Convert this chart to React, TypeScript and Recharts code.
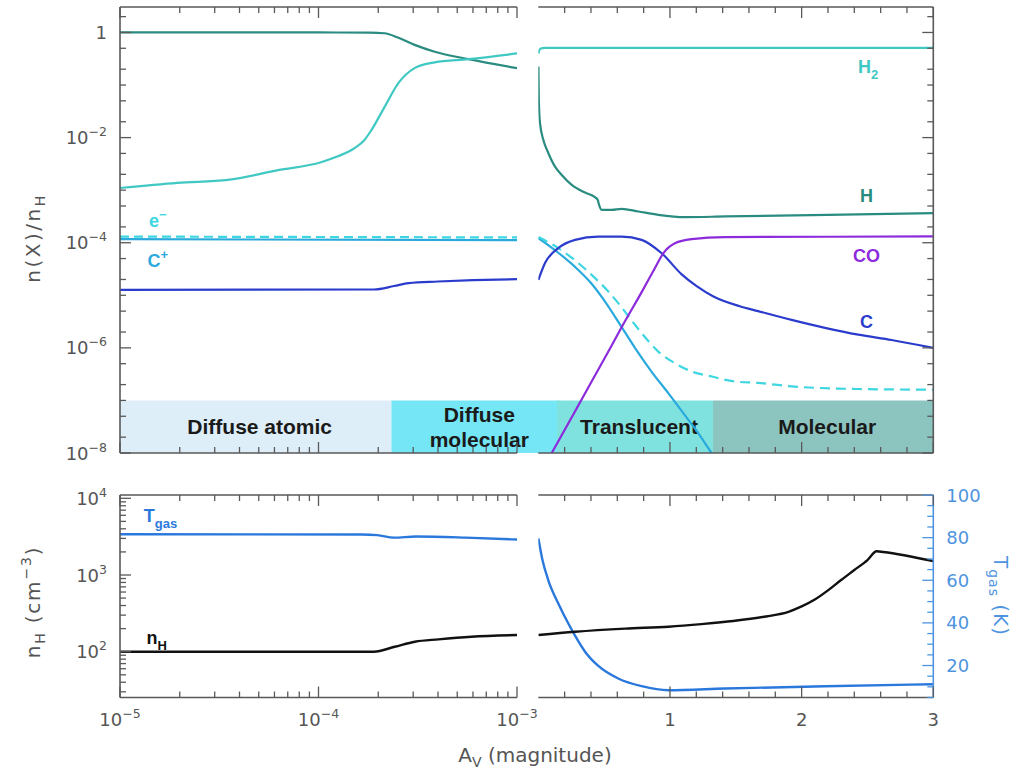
import React from 'react';
import { LineChart, Line, XAxis, YAxis, ReferenceArea, ReferenceDot } from 'recharts';

// ---------------- page / frame geometry ----------------
const PAGE_W = 1017;
const PAGE_H = 772;
const LEFT_L = 120;
const LEFT_R = 517;
const RIGHT_L = 538.3;
const RIGHT_R = 933.3;
const TOP_T = 7;
const TOP_B = 453;
const BOT_T = 495;
const BOT_B = 697.5;
const AX = 2; // thickness reserved for each visible axis

// ---------------- colours & fonts ----------------
const GRAY = '#595959';
const TEXT_GRAY = '#555555';
const BLUE_AXIS = '#4f94df';
const COL = {
  H: '#2a8c80',
  H2: '#40c8c3',
  E: '#3ed6e0',
  CP: '#2aa9dc',
  C: '#2b3ccc',
  CO: '#8c2bdc',
  T: '#2a78dc',
  NH: '#111111',
};
const BAND_COLOR: Record<string, string> = {
  'Diffuse atomic': '#deeef8',
  'Diffuse molecular': '#75e6f5',
  Translucent: '#80e2de',
  Molecular: '#8cc4c0',
};
const TICK_FONT = '"DejaVu Sans", sans-serif';
const LABEL_FONT = '"Liberation Sans", Arial, sans-serif';

// ---------------- data: upper panels, n(X)/nH ----------------
// left half (log A_V from 1e-5 to 1e-3)
const hLeft = [
  { av: 1e-5, n: 1.0 }, { av: 1.0e-4, n: 1.0 }, { av: 1.8e-4, n: 0.99 }, { av: 2.15e-4, n: 0.965 },
  { av: 2.53e-4, n: 0.79 }, { av: 3.05e-4, n: 0.58 }, { av: 3.85e-4, n: 0.43 }, { av: 5.7e-4, n: 0.31 },
  { av: 1e-3, n: 0.21 },
];
const h2Left = [
  { av: 1e-5, n: 1.1e-3 }, { av: 1.95e-5, n: 1.38e-3 }, { av: 3.5e-5, n: 1.57e-3 }, { av: 6.25e-5, n: 2.4e-3 },
  { av: 1.03e-4, n: 3.4e-3 }, { av: 1.25e-4, n: 4.4e-3 }, { av: 1.52e-4, n: 6.3e-3 }, { av: 1.7e-4, n: 8.9e-3 },
  { av: 1.85e-4, n: 1.4e-2 }, { av: 2.15e-4, n: 3.8e-2 }, { av: 2.53e-4, n: 0.11 }, { av: 3.05e-4, n: 0.21 },
  { av: 3.85e-4, n: 0.27 }, { av: 5.7e-4, n: 0.31 }, { av: 1e-3, n: 0.4 },
];
const eLeft = [{ av: 1e-5, n: 1.31e-4 }, { av: 1e-3, n: 1.26e-4 }];
const cpLeft = [{ av: 1e-5, n: 1.17e-4 }, { av: 1e-3, n: 1.12e-4 }];
const cLeft = [
  { av: 1e-5, n: 1.27e-5 }, { av: 1.9e-4, n: 1.29e-5 }, { av: 2.4e-4, n: 1.5e-5 }, { av: 2.85e-4, n: 1.71e-5 },
  { av: 4.0e-4, n: 1.83e-5 }, { av: 6.0e-4, n: 1.94e-5 }, { av: 1e-3, n: 2.03e-5 },
];

// right half (linear A_V from 0 to 3)
const hRight = [
  { av: 0.001, n: 0.224 }, { av: 0.004, n: 0.052 }, { av: 0.013, n: 0.0188 }, { av: 0.038, n: 0.0091 },
  { av: 0.076, n: 0.0051 }, { av: 0.127, n: 0.0028 }, { av: 0.178, n: 0.00195 }, { av: 0.254, n: 0.00126 },
  { av: 0.355, n: 9.0e-4 }, { av: 0.43, n: 7.35e-4 }, { av: 0.451, n: 6.55e-4 }, { av: 0.461, n: 5.3e-4 },
  { av: 0.481, n: 4.23e-4 }, { av: 0.557, n: 4.23e-4 }, { av: 0.633, n: 4.42e-4 }, { av: 0.759, n: 3.93e-4 },
  { av: 0.911, n: 3.4e-4 }, { av: 1.114, n: 3.07e-4 }, { av: 1.42, n: 3.16e-4 }, { av: 2.2, n: 3.4e-4 },
  { av: 3.0, n: 3.65e-4 },
];
const h2Right = [{ av: 0.001, n: 0.4 }, { av: 0.015, n: 0.49 }, { av: 0.05, n: 0.507 }, { av: 3.0, n: 0.507 }];
const cpRight = [
  { av: 0.001, n: 1.22e-4 }, { av: 0.152, n: 6.45e-5 }, { av: 0.279, n: 3.47e-5 }, { av: 0.405, n: 1.66e-5 },
  { av: 0.507, n: 7.6e-6 }, { av: 0.62, n: 2.8e-6 }, { av: 0.734, n: 1.0e-6 }, { av: 0.861, n: 3.5e-7 },
  { av: 0.987, n: 1.38e-7 }, { av: 1.114, n: 5.2e-8 }, { av: 1.215, n: 2.4e-8 }, { av: 1.317, n: 1.0e-8 },
  { av: 1.45, n: 4.0e-9 },
];
const eRight = [
  { av: 0.001, n: 1.28e-4 }, { av: 0.152, n: 7.9e-5 }, { av: 0.304, n: 4.1e-5 }, { av: 0.405, n: 2.45e-5 },
  { av: 0.532, n: 1.18e-5 }, { av: 0.658, n: 4.9e-6 }, { av: 0.734, n: 2.75e-6 }, { av: 0.785, n: 1.91e-6 },
  { av: 0.911, n: 8.5e-7 }, { av: 1.038, n: 5.1e-7 }, { av: 1.165, n: 3.55e-7 }, { av: 1.317, n: 2.85e-7 },
  { av: 1.494, n: 2.29e-7 }, { av: 1.668, n: 2.16e-7 }, { av: 1.924, n: 1.85e-7 }, { av: 2.427, n: 1.65e-7 },
  { av: 3.0, n: 1.6e-7 },
];
const cRight = [
  { av: 0.001, n: 1.97e-5 }, { av: 0.051, n: 4.1e-5 }, { av: 0.152, n: 7.9e-5 }, { av: 0.279, n: 1.135e-4 },
  { av: 0.456, n: 1.31e-4 }, { av: 0.633, n: 1.31e-4 }, { av: 0.785, n: 1.135e-4 }, { av: 0.937, n: 6.3e-5 },
  { av: 1.089, n: 2.5e-5 }, { av: 1.2, n: 1.51e-5 }, { av: 1.33, n: 9.5e-6 }, { av: 1.53, n: 6.2e-6 },
  { av: 1.67, n: 5.0e-6 }, { av: 1.924, n: 3.4e-6 }, { av: 2.177, n: 2.4e-6 }, { av: 2.43, n: 1.78e-6 },
  { av: 2.683, n: 1.41e-6 }, { av: 3.0, n: 1.0e-6 },
];
const coRight = [
  { av: 0.05, n: 5.9e-9 }, { av: 0.102, n: 1.0e-8 }, { av: 0.279, n: 6.2e-8 }, { av: 0.405, n: 2.3e-7 },
  { av: 0.532, n: 8.5e-7 }, { av: 0.658, n: 3.2e-6 }, { av: 0.785, n: 1.15e-5 }, { av: 0.886, n: 3.3e-5 },
  { av: 0.949, n: 6.3e-5 }, { av: 1.038, n: 9.8e-5 }, { av: 1.165, n: 1.17e-4 }, { av: 1.418, n: 1.28e-4 },
  { av: 2.2, n: 1.3e-4 }, { av: 3.0, n: 1.32e-4 },
];

// ---------------- data: lower panels ----------------
const nhLeft = [
  { av: 1e-5, v: 100 }, { av: 1.9e-4, v: 100 }, { av: 2.42e-4, v: 116 }, { av: 3.06e-4, v: 135 },
  { av: 4.02e-4, v: 145 }, { av: 5.9e-4, v: 157 }, { av: 1e-3, v: 165 },
];
const tgasLeft = [
  { av: 1e-5, v: 81.6 }, { av: 1.65e-4, v: 81.5 }, { av: 1.98e-4, v: 81.2 }, { av: 2.4e-4, v: 80.0 },
  { av: 3.1e-4, v: 80.5 }, { av: 5.5e-4, v: 80.0 }, { av: 1e-3, v: 79.1 },
];
const nhRight = [
  { av: 0.001, v: 165 }, { av: 0.28, v: 182 }, { av: 0.66, v: 200 }, { av: 0.99, v: 212 }, { av: 1.24, v: 229 },
  { av: 1.48, v: 251 }, { av: 1.73, v: 288 }, { av: 1.9, v: 331 }, { av: 2.0, v: 389 }, { av: 2.1, v: 479 },
  { av: 2.2, v: 631 }, { av: 2.3, v: 861 }, { av: 2.4, v: 1161 }, { av: 2.5, v: 1567 }, { av: 2.57, v: 2042 },
  { av: 2.62, v: 1995 }, { av: 3.0, v: 1514 },
];
const tgasRight = [
  { av: 0.001, v: 79.6 }, { av: 0.03, v: 70 }, { av: 0.076, v: 60 }, { av: 0.152, v: 49.1 },
  { av: 0.228, v: 39.7 }, { av: 0.279, v: 34 }, { av: 0.355, v: 26.5 }, { av: 0.456, v: 19.8 },
  { av: 0.607, v: 13.9 }, { av: 0.785, v: 10.3 }, { av: 0.987, v: 8.4 }, { av: 1.418, v: 9.2 },
  { av: 2.177, v: 10.3 }, { av: 3.0, v: 11.2 },
];

// ---------------- regions (A_V boundaries) ----------------
const bandAbund = [1e-8, 1e-7];
const leftBands = [
  { name: 'Diffuse atomic', from: 1e-5, to: 2.33e-4 },
  { name: 'Diffuse molecular', from: 2.33e-4, to: 1.63e-3 },
];
const rightBands = [
  { name: 'Translucent', from: 0.142, to: 1.327 },
  { name: 'Molecular', from: 1.327, to: 3.0 },
];

// ---------------- species label anchors ----------------
const upperRightLabels = [
  { id: 'H2', av: 2.504, n: 0.225 },
  { id: 'H', av: 2.493, n: 7.9e-4 },
  { id: 'CO', av: 2.493, n: 5.7e-5 },
  { id: 'C', av: 2.493, n: 3.2e-6 },
];
const upperLeftLabels = [
  { id: 'e-', av: 1.55e-5, n: 2.65e-4 },
  { id: 'C+', av: 1.55e-5, n: 4.6e-5 },
];
const lowerLeftLabels = [
  { id: 'Tgas', av: 1.6e-5, axis: 't', v: 90.5 },
  { id: 'nH', av: 1.53e-5, axis: 'n', v: 151 },
];

// ---------------- axes: domains & ticks ----------------
const leftAvDomain = [1e-5, 1e-3];
const rightAvDomain = [0, 3];
const abundDomain = [1e-8, 3.05];
const nhDomain = [25.3, 11040];
const tgasDomain = [5, 100];

const leftAvMajors = [1e-5, 1e-4, 1e-3];
const abundMajors = [1, 1e-2, 1e-4, 1e-6, 1e-8];
const nhMajors = [100, 1000, 10000];
const rightAvMajors = [1, 2, 3];
const tgasMajors = [20, 40, 60, 80, 100];

const decadeTicks = (lo: number, hi: number, mults: number[]) => {
  const out: number[] = [];
  for (let e = Math.floor(Math.log10(lo)); e <= Math.ceil(Math.log10(hi)); e++) {
    for (const m of mults) {
      const v = Number((m * Math.pow(10, e)).toPrecision(6));
      if (v >= lo * 0.999999 && v <= hi * 1.000001) out.push(v);
    }
  }
  return out;
};
const leftAvTicks = decadeTicks(1e-5, 1e-3, [1, 2, 3, 4, 5, 6, 7, 8, 9]);
const abundTicks = decadeTicks(1e-8, 3.05, [1, 2, 5]);
const nhTicks = decadeTicks(25.3, 11040, [1, 2, 3, 4, 5, 6, 7, 8, 9]);
const rightAvTicks = Array.from({ length: 15 }, (_, i) => Math.round((i + 1) * 2) / 10);
const tgasTicks = Array.from({ length: 20 }, (_, i) => (i + 1) * 5);

// ---------------- tick renderer ----------------
type Side = 'left' | 'right' | 'top' | 'bottom';
type Fmt = (v: number) => { base: string; exp?: string } | null;

const powFmt: Fmt = (v) => {
  const e = Math.round(Math.log10(v));
  if (e === 0) return { base: '1' };
  return { base: '10', exp: e < 0 ? `\u2212${-e}` : `${e}` };
};
const plainFmt: Fmt = (v) => ({ base: String(Math.round(v)) });
const sameVal = (a: number, b: number) => Math.abs(a - b) <= 1e-6 * Math.max(Math.abs(a), Math.abs(b));

function makeTick(side: Side, majors: number[], fmt?: Fmt, color = GRAY, textColor = TEXT_GRAY) {
  return (props: any) => {
    const x = Number(props.x);
    const y = Number(props.y);
    const v = Number(props.payload?.value);
    const major = majors.some((m) => sameVal(m, v));
    const len = major ? 11 : 6;
    let x2 = x;
    let y2 = y;
    let tx = x;
    let ty = y;
    let anchor: 'start' | 'middle' | 'end' = 'middle';
    if (side === 'left') { x2 = x + len; tx = x - 13; ty = y + 6.5; anchor = 'end'; }
    else if (side === 'right') { x2 = x - len; tx = x + 13; ty = y + 6.5; anchor = 'start'; }
    else if (side === 'top') { y2 = y + len; }
    else { y2 = y - len; ty = y + 28; }
    const lab = major && fmt ? fmt(v) : null;
    return (
      <g>
        <line x1={x} y1={y} x2={x2} y2={y2} stroke={color} strokeWidth={1.3} />
        {lab && (
          <text x={tx} y={ty} textAnchor={anchor} fill={textColor} fontSize={18} fontFamily={TICK_FONT}>
            {lab.base}
            {lab.exp ? <tspan dy={-8} fontSize={12.5}>{lab.exp}</tspan> : null}
          </text>
        )}
      </g>
    );
  };
}

// ---------------- label renderers ----------------
type Piece = { t: string; s?: 'sub' | 'sup' };
const CHEM: Record<string, { pieces: Piece[]; color: string }> = {
  H2: { pieces: [{ t: 'H' }, { t: '2', s: 'sub' }], color: COL.H2 },
  H: { pieces: [{ t: 'H' }], color: COL.H },
  CO: { pieces: [{ t: 'CO' }], color: COL.CO },
  C: { pieces: [{ t: 'C' }], color: COL.C },
  'e-': { pieces: [{ t: 'e' }, { t: '\u2212', s: 'sup' }], color: COL.E },
  'C+': { pieces: [{ t: 'C' }, { t: '+', s: 'sup' }], color: COL.CP },
  Tgas: { pieces: [{ t: 'T' }, { t: 'gas', s: 'sub' }], color: COL.T },
  nH: { pieces: [{ t: 'n' }, { t: 'H', s: 'sub' }], color: COL.NH },
};

const chemLabel = (id: string) => (props: any) => {
  const spec = CHEM[id];
  const vb = props.viewBox || {};
  const cx = Number(vb.x || 0) + Number(vb.width || 0) / 2;
  const cy = Number(vb.y || 0) + Number(vb.height || 0) / 2;
  const size = 18;
  let cur = 0;
  return (
    <text x={cx} y={cy + 6.5} textAnchor="middle" fill={spec.color} fontSize={size} fontWeight="bold" fontFamily={LABEL_FONT}>
      {spec.pieces.map((p, i) => {
        const target = p.s === 'sub' ? 6 : p.s === 'sup' ? -8 : 0;
        const dy = target - cur;
        cur = target;
        return (
          <tspan key={i} dy={dy} fontSize={p.s ? 13 : size}>
            {p.t}
          </tspan>
        );
      })}
    </text>
  );
};

const bandLabel = (name: string) => (props: any) => {
  const vb = props.viewBox || {};
  const cx = Number(vb.x) + Number(vb.width) / 2;
  const cy = Number(vb.y) + Number(vb.height) / 2;
  const lines = name === 'Diffuse molecular' ? ['Diffuse', 'molecular'] : [name];
  const step = 25;
  const first = cy + 7.5 - ((lines.length - 1) * step) / 2;
  return (
    <text textAnchor="middle" fill="#1a1a1a" fontSize={21} fontWeight="bold" fontFamily={LABEL_FONT}>
      {lines.map((l, i) => (
        <tspan key={i} x={cx + 4} y={first + i * step}>
          {l}
        </tspan>
      ))}
    </text>
  );
};

// ---------------- helpers ----------------
// plot area [l..r] x [t..b]; each visible axis reserves AX px outside it
const box = (l: number, r: number, t: number, b: number, hasLeft: boolean, hasRight: boolean) => ({
  left: l - (hasLeft ? AX : 0),
  right: PAGE_W - r - (hasRight ? AX : 0),
  top: t - AX,
  bottom: PAGE_H - b - AX,
});
const frame = { stroke: GRAY, strokeWidth: 1.6 };
const common = { tickSize: 0, tickMargin: 0, tickLine: false, interval: 0 as const, allowDataOverflow: true, type: 'number' as const };
const lp = { type: 'monotone' as const, dot: false, activeDot: false, isAnimationActive: false, strokeWidth: 2.2 };
const layer: React.CSSProperties = { position: 'absolute', left: 0, top: 0 };

export default function App() {
  return (
    <div style={{ position: 'absolute', left: 0, top: 0, width: PAGE_W, height: PAGE_H, background: '#ffffff', overflow: 'hidden' }}>
      {/* ---------- upper left ---------- */}
      <div style={layer}>
        <LineChart width={PAGE_W} height={PAGE_H} margin={box(LEFT_L, LEFT_R, TOP_T, TOP_B, true, false)}>
          <XAxis xAxisId="b" dataKey="av" scale="log" domain={leftAvDomain} ticks={leftAvTicks} height={AX} axisLine={frame} tick={makeTick('bottom', leftAvMajors)} {...common} />
          <XAxis xAxisId="t" orientation="top" dataKey="av" scale="log" domain={leftAvDomain} ticks={leftAvTicks} height={AX} axisLine={frame} tick={makeTick('top', leftAvMajors)} {...common} />
          <YAxis yAxisId="n" scale="log" domain={abundDomain} ticks={abundTicks} width={AX} axisLine={frame} tick={makeTick('left', abundMajors, powFmt)} {...common} />
          {leftBands.map((b) => (
            <ReferenceArea key={b.name} xAxisId="b" yAxisId="n" x1={b.from} x2={b.to} y1={bandAbund[0]} y2={bandAbund[1]} fill={BAND_COLOR[b.name]} fillOpacity={1} stroke="none" ifOverflow="visible" label={{ content: bandLabel(b.name) }} />
          ))}
          <Line xAxisId="b" yAxisId="n" data={hLeft} dataKey="n" stroke={COL.H} {...lp} />
          <Line xAxisId="b" yAxisId="n" data={h2Left} dataKey="n" stroke={COL.H2} {...lp} />
          <Line xAxisId="b" yAxisId="n" data={cpLeft} dataKey="n" stroke={COL.CP} {...lp} />
          <Line xAxisId="b" yAxisId="n" data={eLeft} dataKey="n" stroke={COL.E} strokeDasharray="9 5" {...lp} />
          <Line xAxisId="b" yAxisId="n" data={cLeft} dataKey="n" stroke={COL.C} {...lp} />
          {upperLeftLabels.map((l) => (
            <ReferenceDot key={l.id} xAxisId="b" yAxisId="n" x={l.av} y={l.n} r={0} fill="none" stroke="none" label={{ content: chemLabel(l.id) }} />
          ))}
        </LineChart>
      </div>

      {/* ---------- upper right ---------- */}
      <div style={layer}>
        <LineChart width={PAGE_W} height={PAGE_H} margin={box(RIGHT_L, RIGHT_R, TOP_T, TOP_B, false, true)}>
          <XAxis xAxisId="b" dataKey="av" domain={rightAvDomain} ticks={rightAvTicks} height={AX} axisLine={frame} tick={makeTick('bottom', rightAvMajors)} {...common} />
          <XAxis xAxisId="t" orientation="top" dataKey="av" domain={rightAvDomain} ticks={rightAvTicks} height={AX} axisLine={frame} tick={makeTick('top', rightAvMajors)} {...common} />
          <YAxis yAxisId="n" orientation="right" scale="log" domain={abundDomain} ticks={abundTicks} width={AX} axisLine={frame} tick={makeTick('right', abundMajors)} {...common} />
          {rightBands.map((b) => (
            <ReferenceArea key={b.name} xAxisId="b" yAxisId="n" x1={b.from} x2={b.to} y1={bandAbund[0]} y2={bandAbund[1]} fill={BAND_COLOR[b.name]} fillOpacity={1} stroke="none" ifOverflow="visible" label={{ content: bandLabel(b.name) }} />
          ))}
          <Line xAxisId="b" yAxisId="n" data={hRight} dataKey="n" stroke={COL.H} {...lp} />
          <Line xAxisId="b" yAxisId="n" data={h2Right} dataKey="n" stroke={COL.H2} {...lp} />
          <Line xAxisId="b" yAxisId="n" data={cpRight} dataKey="n" stroke={COL.CP} {...lp} />
          <Line xAxisId="b" yAxisId="n" data={eRight} dataKey="n" stroke={COL.E} strokeDasharray="10 6" {...lp} />
          <Line xAxisId="b" yAxisId="n" data={cRight} dataKey="n" stroke={COL.C} {...lp} />
          <Line xAxisId="b" yAxisId="n" data={coRight} dataKey="n" stroke={COL.CO} {...lp} />
          {upperRightLabels.map((l) => (
            <ReferenceDot key={l.id} xAxisId="b" yAxisId="n" x={l.av} y={l.n} r={0} fill="none" stroke="none" label={{ content: chemLabel(l.id) }} />
          ))}
        </LineChart>
      </div>

      {/* ---------- lower left ---------- */}
      <div style={layer}>
        <LineChart width={PAGE_W} height={PAGE_H} margin={box(LEFT_L, LEFT_R, BOT_T, BOT_B, true, false)}>
          <XAxis xAxisId="b" dataKey="av" scale="log" domain={leftAvDomain} ticks={leftAvTicks} height={AX} axisLine={frame} tick={makeTick('bottom', leftAvMajors, powFmt)} {...common} />
          <XAxis xAxisId="t" orientation="top" dataKey="av" scale="log" domain={leftAvDomain} ticks={leftAvTicks} height={AX} axisLine={frame} tick={makeTick('top', leftAvMajors)} {...common} />
          <YAxis yAxisId="n" scale="log" domain={nhDomain} ticks={nhTicks} width={AX} axisLine={frame} tick={makeTick('left', nhMajors, powFmt)} {...common} />
          <YAxis yAxisId="t" hide domain={tgasDomain} {...common} />
          <Line xAxisId="b" yAxisId="t" data={tgasLeft} dataKey="v" stroke={COL.T} {...lp} strokeWidth={2.4} />
          <Line xAxisId="b" yAxisId="n" data={nhLeft} dataKey="v" stroke={COL.NH} {...lp} strokeWidth={2.4} />
          {lowerLeftLabels.map((l) => (
            <ReferenceDot key={l.id} xAxisId="b" yAxisId={l.axis} x={l.av} y={l.v} r={0} fill="none" stroke="none" label={{ content: chemLabel(l.id) }} />
          ))}
        </LineChart>
      </div>

      {/* ---------- lower right ---------- */}
      <div style={layer}>
        <LineChart width={PAGE_W} height={PAGE_H} margin={box(RIGHT_L, RIGHT_R, BOT_T, BOT_B, false, true)}>
          <XAxis xAxisId="b" dataKey="av" domain={rightAvDomain} ticks={rightAvTicks} height={AX} axisLine={frame} tick={makeTick('bottom', rightAvMajors, plainFmt)} {...common} />
          <XAxis xAxisId="t" orientation="top" dataKey="av" domain={rightAvDomain} ticks={rightAvTicks} height={AX} axisLine={frame} tick={makeTick('top', rightAvMajors)} {...common} />
          <YAxis yAxisId="n" hide scale="log" domain={nhDomain} {...common} />
          <YAxis yAxisId="t" orientation="right" domain={tgasDomain} ticks={tgasTicks} width={AX} axisLine={{ stroke: BLUE_AXIS, strokeWidth: 1.6 }} tick={makeTick('right', tgasMajors, plainFmt, BLUE_AXIS, BLUE_AXIS)} {...common} />
          <Line xAxisId="b" yAxisId="t" data={tgasRight} dataKey="v" stroke={COL.T} {...lp} strokeWidth={2.4} />
          <Line xAxisId="b" yAxisId="n" data={nhRight} dataKey="v" stroke={COL.NH} {...lp} strokeWidth={2.4} />
        </LineChart>
      </div>

      {/* ---------- axis titles ---------- */}
      <svg width={PAGE_W} height={PAGE_H} style={layer}>
        <text transform="translate(40,238) rotate(-90)" textAnchor="middle" fill={TEXT_GRAY} fontSize={20} letterSpacing={2.5} fontFamily={TICK_FONT}>
          n(X)/n<tspan dy={5} fontSize={14}>H</tspan>
        </text>
        <text transform="translate(40,602) rotate(-90)" textAnchor="middle" fill={TEXT_GRAY} fontSize={20} letterSpacing={1.8} fontFamily={TICK_FONT}>
          n<tspan dy={5} fontSize={14}>H</tspan>
          <tspan dy={-5}> (cm</tspan>
          <tspan dy={-9} fontSize={14}>{'\u22123'}</tspan>
          <tspan dy={9}>)</tspan>
        </text>
        <text x={535} y={762} textAnchor="middle" fill={TEXT_GRAY} fontSize={20} fontFamily={TICK_FONT}>
          A<tspan dy={5} fontSize={14}>V</tspan>
          <tspan dy={-5}> (magnitude)</tspan>
        </text>
        <text transform="translate(994,596) rotate(90)" textAnchor="middle" fill={BLUE_AXIS} fontSize={20} letterSpacing={1} fontFamily={TICK_FONT}>
          T<tspan dy={5} fontSize={14}>gas</tspan>
          <tspan dy={-5}> (K)</tspan>
        </text>
      </svg>
    </div>
  );
}
